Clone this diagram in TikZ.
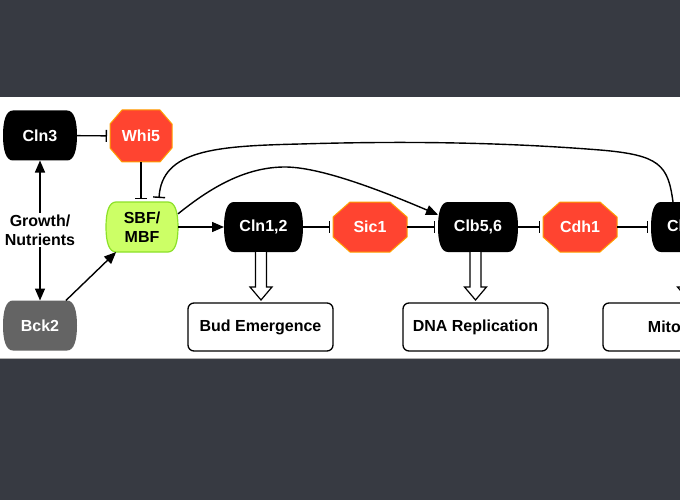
\documentclass[tikz,border=0pt]{standalone}
\usepackage{fontspec}
\setmainfont{Liberation Sans}
\usetikzlibrary{arrows.meta,calc}
\definecolor{bgdark}{RGB}{55,58,66}
\definecolor{octred}{RGB}{255,68,48}
\definecolor{octedge}{RGB}{255,160,0}
\definecolor{sbffill}{RGB}{204,255,102}
\definecolor{sbfedge}{RGB}{140,225,40}
\definecolor{bckgray}{RGB}{100,100,100}
\tikzset{
  lbl/.style={font=\bfseries\fontsize{16}{19}\selectfont, inner sep=0pt, outer sep=0pt, align=center},
  oct/.style={fill=octred, draw=octedge, line width=1pt},
  act/.style={line width=1.4pt, -{Triangle[length=12pt,width=10pt]}},
  inh/.style={line width=1.4pt, -{Bar[width=12pt]}, shorten >=3pt},
  outbox/.style={lbl, draw=black, line width=1.3pt, rounded corners=6pt, minimum width=145, minimum height=48, fill=white, text=black},
  hollowst/.style={fill=white, draw=black, line width=1.2pt, line join=miter}
}
\newcommand\blobpath[3]{%
  \path[#3,shift={(#1)}] (-#2+10,-25) -- (#2-10,-25) .. controls (#2-3,-25) and (#2,-15) .. (#2,0) .. controls (#2,15) and (#2-3,25) .. (#2-10,25) -- (-#2+10,25) .. controls (-#2+3,25) and (-#2,15) .. (-#2,0) .. controls (-#2,-15) and (-#2+3,-25) .. (-#2+10,-25) -- cycle;}
\newcommand\blob[7]{%
  \blobpath{#2,#3}{#4}{#5}
  \node[lbl, text=#6, minimum width=2*#4, minimum height=50] (#1) at (#2,#3) {#7};}
\newcommand\octo[8]{%
  \path[oct, shift={(#2,#3)}] (-#4+#6,-#5) -- (#4-#6,-#5) -- (#4,-#5+#7) -- (#4,#5-#7) -- (#4-#6,#5) -- (-#4+#6,#5) -- (-#4,#5-#7) -- (-#4,-#5+#7) -- cycle;
  \node[lbl, text=white, minimum width=2*#4, minimum height=2*#5] (#1) at (#2,#3) {#8};}
\newcommand\hollow[2]{%
  \filldraw[hollowst] let \p1=(#1.south), \p2=(#2.north) in
    (\x1-8pt,\y1) -- (\x1-8pt,\y2+16pt) -- (\x1-13.5pt,\y2+16pt) -- (\x1-2.5pt,\y2+3pt)
    -- (\x1+8.5pt,\y2+16pt) -- (\x1+3pt,\y2+16pt) -- (\x1+3pt,\y1);}
\begin{document}
\begin{tikzpicture}[x=1pt,y=-1pt]
\useasboundingbox (0,0) rectangle (680,500);
\fill[bgdark] (0,0) rectangle (680,500);
\fill[white] (0,97) rectangle (680,358);
\draw[gray!60, line width=0.8pt] (0,358.4) -- (680,358.4);

% nodes
\blob{cln3}{40}{135.5}{37}{fill=black}{white}{Cln3}
\blob{bck2}{40}{325.5}{37}{fill=bckgray}{white}{Bck2}
\blob{sbf}{142}{227}{36}{fill=sbffill, draw=sbfedge, line width=1.2pt}{black}{SBF/\\MBF}
\blob{cln12}{263.5}{227}{39.5}{fill=black}{white}{Cln1,2}
\blob{clb56}{478}{227}{40}{fill=black}{white}{Clb5,6}
\blob{clb12}{691}{227}{40}{fill=black}{white}{Clb1,2}
\octo{whi5}{141}{136}{31}{26}{12}{14}{Whi5}
\octo{sic1}{370}{227}{37}{25}{17}{15}{Sic1}
\octo{cdh1}{580}{227}{37}{25}{17}{15}{Cdh1}
\node[lbl, text=black, inner sep=2pt] (growth) at (40,230) {Growth/\\Nutrients};

\node[outbox] (bud) at (260.5,327) {Bud Emergence};
\node[outbox] (dna) at (475.5,327) {DNA Replication};
\node[outbox] (mit) at (675.5,327) {Mitosis};

% hollow arrows
\hollow{cln12}{bud}
\hollow{clb56}{dna}
\hollow{clb12}{mit}

% connectors
\draw[inh] (cln3) -- (whi5);
\draw[inh] (whi5) -- (whi5 |- sbf.north);
\draw[act] (growth) -- (cln3);
\draw[act] (growth) -- (bck2);
\draw[act] (bck2) -- (sbf);
\draw[act] (sbf) -- (cln12);
\draw[inh] (cln12) -- (sic1);
\draw[inh] (sic1) -- (clb56);
\draw[inh] (clb56) -- (cdh1);
\draw[inh] (cdh1) -- (clb12);
\draw[act] (sbf.20) .. controls (210,188) and (245,167) .. (285,167)
  .. controls (320,167) and (380,190) .. (clb56.163);
\draw[inh, shorten >=0pt] ($(clb12.north)+(-18,0)$) .. controls (668,165) and (660,155) .. (600,150)
  .. controls (500,142) and (400,141) .. (300,144)
  .. controls (215,146) and (162,150) .. ($(sbf.north)+(17,-4)$);
\end{tikzpicture}
\end{document}
